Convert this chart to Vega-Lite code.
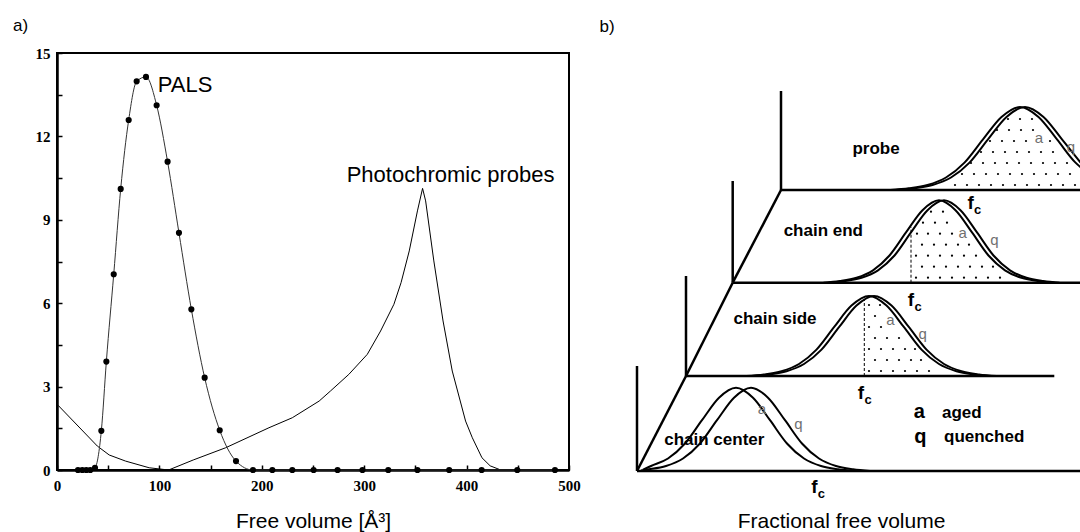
{
  "$schema": "https://vega.github.io/schema/vega-lite/v6.json",
  "padding": {"left": 11, "top": 16, "right": 0, "bottom": 0},
  "spacing": 32,
  "bounds": "flush",
  "resolve": {"scale": {"x": "independent", "y": "independent"}},
  "config": {
    "font": "Liberation Sans",
    "view": {"stroke": null},
    "axis": {"grid": false, "domainColor": "black", "tickColor": "black", "labelColor": "black", "titleColor": "black"}
  },
  "datasets": {
    "pals": [
      {"vol": 20.5, "val": 0}, {"vol": 24.7, "val": 0}, {"vol": 28.6, "val": 0}, {"vol": 32.5, "val": 0},
      {"vol": 37.1, "val": 0.08}, {"vol": 43.3, "val": 1.41}, {"vol": 48.2, "val": 3.9}, {"vol": 55.4, "val": 7.04},
      {"vol": 62.2, "val": 10.11}, {"vol": 70.0, "val": 12.59}, {"vol": 77.8, "val": 13.98}, {"vol": 86.9, "val": 14.14},
      {"vol": 97.3, "val": 13.12}, {"vol": 108.0, "val": 11.09}, {"vol": 119.1, "val": 8.53}, {"vol": 131.2, "val": 5.78},
      {"vol": 144.2, "val": 3.32}, {"vol": 158.9, "val": 1.43}, {"vol": 174.8, "val": 0.32}, {"vol": 191.4, "val": 0},
      {"vol": 210.3, "val": 0}, {"vol": 229.8, "val": 0}, {"vol": 250.6, "val": 0}, {"vol": 274.0, "val": 0},
      {"vol": 298.3, "val": 0}, {"vol": 323.5, "val": 0}, {"vol": 352.0, "val": 0}, {"vol": 383.0, "val": 0},
      {"vol": 414.7, "val": 0}, {"vol": 449.5, "val": 0}, {"vol": 486.3, "val": 0}
    ],
    "probes": [
      {"vol": 1, "val": 2.33}, {"vol": 39.4, "val": 0.86}, {"vol": 51, "val": 0.54}, {"vol": 67, "val": 0.32},
      {"vol": 90, "val": 0.08}, {"vol": 109, "val": 0}, {"vol": 133, "val": 0.36}, {"vol": 164.7, "val": 0.8},
      {"vol": 207, "val": 1.52}, {"vol": 229.8, "val": 1.88}, {"vol": 256, "val": 2.48}, {"vol": 267, "val": 2.84},
      {"vol": 285, "val": 3.44}, {"vol": 303, "val": 4.16}, {"vol": 316, "val": 5.0}, {"vol": 329, "val": 5.96},
      {"vol": 336, "val": 6.74}, {"vol": 344, "val": 7.88}, {"vol": 352, "val": 9.32}, {"vol": 357, "val": 10.13},
      {"vol": 360, "val": 9.68}, {"vol": 368, "val": 7.52}, {"vol": 377, "val": 5.36}, {"vol": 386, "val": 3.56},
      {"vol": 399, "val": 1.76}, {"vol": 405.6, "val": 1.16}, {"vol": 415, "val": 0.44}, {"vol": 423, "val": 0.15},
      {"vol": 432, "val": 0.02}
    ],
    "notes": [
      {"vol": 125.0, "val": 13.85, "label": "PALS"},
      {"vol": 384.4, "val": 10.6, "label": "Photochromic probes"}
    ],
    "panelA": [{"vol": -35.6, "val": 15.97, "label": "a)"}],
    "panelB": [{"sx": 0.6, "sy": 44.4, "label": "b)"}],
    "frames": [
      {"sx": 18.0, "sy": 38.0, "sx2": 18.0, "sy2": 28.1},
      {"sx": 18.0, "sy": 28.1, "sx2": 48.0, "sy2": 28.1},
      {"sx": 18.0, "sy": 28.1, "sx2": 13.17, "sy2": 18.83},
      {"sx": 13.17, "sy": 29.0, "sx2": 13.17, "sy2": 18.83},
      {"sx": 13.17, "sy": 18.83, "sx2": 48.0, "sy2": 18.83},
      {"sx": 13.17, "sy": 18.83, "sx2": 8.5, "sy2": 9.5},
      {"sx": 8.5, "sy": 19.5, "sx2": 8.5, "sy2": 9.5},
      {"sx": 8.5, "sy": 9.5, "sx2": 45.33, "sy2": 9.5},
      {"sx": 8.5, "sy": 9.5, "sx2": 3.6, "sy2": 0},
      {"sx": 3.6, "sy": 10.5, "sx2": 3.6, "sy2": 0},
      {"sx": 3.6, "sy": 0, "sx2": 48.0, "sy2": 0}
    ],
    "cutoffs": [
      {"sx": 31.0, "sy": 18.83, "sx2": 31.0, "sy2": 24.4},
      {"sx": 26.33, "sy": 9.5, "sx2": 26.33, "sy2": 17.2}
    ],
    "curves": [
      {"curve": "probe a", "sx": 28.95, "sy": 28.1}, {"curve": "probe a", "sx": 30.8, "sy": 28.27}, {"curve": "probe a", "sx": 32.65, "sy": 28.6},
      {"curve": "probe a", "sx": 34.5, "sy": 29.35}, {"curve": "probe a", "sx": 36.35, "sy": 30.84}, {"curve": "probe a", "sx": 38.2, "sy": 33.16},
      {"curve": "probe a", "sx": 40.05, "sy": 35.4}, {"curve": "probe a", "sx": 41.9, "sy": 36.4}, {"curve": "probe a", "sx": 43.75, "sy": 35.4},
      {"curve": "probe a", "sx": 45.6, "sy": 33.16}, {"curve": "probe a", "sx": 47.45, "sy": 30.84}, {"curve": "probe a", "sx": 48.0, "sy": 30.34},
      {"curve": "probe q", "sx": 29.45, "sy": 28.1}, {"curve": "probe q", "sx": 31.3, "sy": 28.27}, {"curve": "probe q", "sx": 33.15, "sy": 28.6},
      {"curve": "probe q", "sx": 35.0, "sy": 29.35}, {"curve": "probe q", "sx": 36.85, "sy": 30.84}, {"curve": "probe q", "sx": 38.7, "sy": 33.16},
      {"curve": "probe q", "sx": 40.55, "sy": 35.4}, {"curve": "probe q", "sx": 42.4, "sy": 36.4}, {"curve": "probe q", "sx": 44.25, "sy": 35.4},
      {"curve": "probe q", "sx": 46.1, "sy": 33.16}, {"curve": "probe q", "sx": 47.95, "sy": 30.84},
      {"curve": "end a", "sx": 22.25, "sy": 18.83}, {"curve": "end a", "sx": 23.9, "sy": 18.99}, {"curve": "end a", "sx": 25.55, "sy": 19.32},
      {"curve": "end a", "sx": 27.2, "sy": 20.07}, {"curve": "end a", "sx": 28.85, "sy": 21.55}, {"curve": "end a", "sx": 30.5, "sy": 23.86},
      {"curve": "end a", "sx": 32.15, "sy": 26.08}, {"curve": "end a", "sx": 33.8, "sy": 27.07}, {"curve": "end a", "sx": 35.45, "sy": 26.08},
      {"curve": "end a", "sx": 37.1, "sy": 23.86}, {"curve": "end a", "sx": 38.75, "sy": 21.55}, {"curve": "end a", "sx": 40.4, "sy": 20.07},
      {"curve": "end a", "sx": 42.05, "sy": 19.32}, {"curve": "end a", "sx": 43.7, "sy": 18.99}, {"curve": "end a", "sx": 45.35, "sy": 18.83},
      {"curve": "end q", "sx": 22.75, "sy": 18.83}, {"curve": "end q", "sx": 24.4, "sy": 18.99}, {"curve": "end q", "sx": 26.05, "sy": 19.32},
      {"curve": "end q", "sx": 27.7, "sy": 20.07}, {"curve": "end q", "sx": 29.35, "sy": 21.55}, {"curve": "end q", "sx": 31.0, "sy": 23.86},
      {"curve": "end q", "sx": 32.65, "sy": 26.08}, {"curve": "end q", "sx": 34.3, "sy": 27.07}, {"curve": "end q", "sx": 35.95, "sy": 26.08},
      {"curve": "end q", "sx": 37.6, "sy": 23.86}, {"curve": "end q", "sx": 39.25, "sy": 21.55}, {"curve": "end q", "sx": 40.9, "sy": 20.07},
      {"curve": "end q", "sx": 42.55, "sy": 19.32}, {"curve": "end q", "sx": 44.2, "sy": 18.99}, {"curve": "end q", "sx": 45.85, "sy": 18.83},
      {"curve": "side a", "sx": 14.55, "sy": 9.5}, {"curve": "side a", "sx": 16.3, "sy": 9.66}, {"curve": "side a", "sx": 18.05, "sy": 9.98},
      {"curve": "side a", "sx": 19.8, "sy": 10.7}, {"curve": "side a", "sx": 21.55, "sy": 12.14}, {"curve": "side a", "sx": 23.3, "sy": 14.38},
      {"curve": "side a", "sx": 25.05, "sy": 16.54}, {"curve": "side a", "sx": 26.8, "sy": 17.5}, {"curve": "side a", "sx": 28.55, "sy": 16.54},
      {"curve": "side a", "sx": 30.3, "sy": 14.38}, {"curve": "side a", "sx": 32.05, "sy": 12.14}, {"curve": "side a", "sx": 33.8, "sy": 10.7},
      {"curve": "side a", "sx": 35.55, "sy": 9.98}, {"curve": "side a", "sx": 37.3, "sy": 9.66}, {"curve": "side a", "sx": 39.05, "sy": 9.5},
      {"curve": "side q", "sx": 15.05, "sy": 9.5}, {"curve": "side q", "sx": 16.8, "sy": 9.66}, {"curve": "side q", "sx": 18.55, "sy": 9.98},
      {"curve": "side q", "sx": 20.3, "sy": 10.7}, {"curve": "side q", "sx": 22.05, "sy": 12.14}, {"curve": "side q", "sx": 23.8, "sy": 14.38},
      {"curve": "side q", "sx": 25.55, "sy": 16.54}, {"curve": "side q", "sx": 27.3, "sy": 17.5}, {"curve": "side q", "sx": 29.05, "sy": 16.54},
      {"curve": "side q", "sx": 30.8, "sy": 14.38}, {"curve": "side q", "sx": 32.55, "sy": 12.14}, {"curve": "side q", "sx": 34.3, "sy": 10.7},
      {"curve": "side q", "sx": 36.05, "sy": 9.98}, {"curve": "side q", "sx": 37.8, "sy": 9.66}, {"curve": "side q", "sx": 39.55, "sy": 9.5},
      {"curve": "center a", "sx": 4.2, "sy": 0.12}, {"curve": "center a", "sx": 5.0, "sy": 0.5}, {"curve": "center a", "sx": 6.7, "sy": 1.25},
      {"curve": "center a", "sx": 8.4, "sy": 2.75}, {"curve": "center a", "sx": 10.1, "sy": 5.08}, {"curve": "center a", "sx": 11.8, "sy": 7.33},
      {"curve": "center a", "sx": 13.5, "sy": 8.33}, {"curve": "center a", "sx": 15.2, "sy": 7.33}, {"curve": "center a", "sx": 16.9, "sy": 5.08},
      {"curve": "center a", "sx": 18.6, "sy": 2.75}, {"curve": "center a", "sx": 20.3, "sy": 1.25}, {"curve": "center a", "sx": 22.0, "sy": 0.5},
      {"curve": "center a", "sx": 23.7, "sy": 0.17}, {"curve": "center a", "sx": 25.4, "sy": 0},
      {"curve": "center q", "sx": 4.0, "sy": 0.06}, {"curve": "center q", "sx": 4.8, "sy": 0.17}, {"curve": "center q", "sx": 6.5, "sy": 0.5},
      {"curve": "center q", "sx": 8.2, "sy": 1.25}, {"curve": "center q", "sx": 9.9, "sy": 2.75}, {"curve": "center q", "sx": 11.6, "sy": 5.08},
      {"curve": "center q", "sx": 13.3, "sy": 7.33}, {"curve": "center q", "sx": 15.0, "sy": 8.33}, {"curve": "center q", "sx": 16.7, "sy": 7.33},
      {"curve": "center q", "sx": 18.4, "sy": 5.08}, {"curve": "center q", "sx": 20.1, "sy": 2.75}, {"curve": "center q", "sx": 21.8, "sy": 1.25},
      {"curve": "center q", "sx": 23.5, "sy": 0.5}, {"curve": "center q", "sx": 25.2, "sy": 0.17}, {"curve": "center q", "sx": 26.9, "sy": 0}
    ],
    "stipple": [
      {"sx": 35.4, "sy": 28.6}, {"sx": 36.6, "sy": 28.6}, {"sx": 37.8, "sy": 28.6}, {"sx": 39.0, "sy": 28.6}, {"sx": 40.2, "sy": 28.6}, {"sx": 41.4, "sy": 28.6},
      {"sx": 42.6, "sy": 28.6}, {"sx": 43.8, "sy": 28.6}, {"sx": 45.0, "sy": 28.6}, {"sx": 46.2, "sy": 28.6}, {"sx": 47.4, "sy": 28.6},
      {"sx": 36.1, "sy": 29.7}, {"sx": 37.3, "sy": 29.7}, {"sx": 38.5, "sy": 29.7}, {"sx": 39.7, "sy": 29.7}, {"sx": 40.9, "sy": 29.7},
      {"sx": 42.1, "sy": 29.7}, {"sx": 43.3, "sy": 29.7}, {"sx": 44.5, "sy": 29.7}, {"sx": 45.7, "sy": 29.7}, {"sx": 46.9, "sy": 29.7},
      {"sx": 37.0, "sy": 30.8}, {"sx": 38.2, "sy": 30.8}, {"sx": 39.4, "sy": 30.8}, {"sx": 40.6, "sy": 30.8}, {"sx": 41.8, "sy": 30.8},
      {"sx": 43.0, "sy": 30.8}, {"sx": 44.2, "sy": 30.8}, {"sx": 45.4, "sy": 30.8}, {"sx": 46.6, "sy": 30.8},
      {"sx": 38.0, "sy": 31.9}, {"sx": 39.2, "sy": 31.9}, {"sx": 40.4, "sy": 31.9}, {"sx": 41.6, "sy": 31.9}, {"sx": 42.8, "sy": 31.9},
      {"sx": 44.0, "sy": 31.9}, {"sx": 45.2, "sy": 31.9},
      {"sx": 38.9, "sy": 33.0}, {"sx": 40.1, "sy": 33.0}, {"sx": 41.3, "sy": 33.0}, {"sx": 42.5, "sy": 33.0}, {"sx": 44.9, "sy": 33.0},
      {"sx": 39.6, "sy": 34.1}, {"sx": 40.8, "sy": 34.1}, {"sx": 42.0, "sy": 34.1}, {"sx": 43.2, "sy": 34.1},
      {"sx": 40.7, "sy": 35.2}, {"sx": 41.9, "sy": 35.2}, {"sx": 43.1, "sy": 35.2},
      {"sx": 31.5, "sy": 19.33}, {"sx": 32.7, "sy": 19.33}, {"sx": 33.9, "sy": 19.33}, {"sx": 35.1, "sy": 19.33}, {"sx": 36.3, "sy": 19.33},
      {"sx": 37.5, "sy": 19.33}, {"sx": 38.7, "sy": 19.33}, {"sx": 39.9, "sy": 19.33},
      {"sx": 32.1, "sy": 20.43}, {"sx": 33.3, "sy": 20.43}, {"sx": 34.5, "sy": 20.43}, {"sx": 35.7, "sy": 20.43}, {"sx": 36.9, "sy": 20.43},
      {"sx": 38.1, "sy": 20.43}, {"sx": 39.2, "sy": 20.43},
      {"sx": 31.5, "sy": 21.53}, {"sx": 32.7, "sy": 21.53}, {"sx": 33.9, "sy": 21.53}, {"sx": 35.1, "sy": 21.53}, {"sx": 36.3, "sy": 21.53},
      {"sx": 37.5, "sy": 21.53},
      {"sx": 32.1, "sy": 22.63}, {"sx": 33.3, "sy": 22.63}, {"sx": 34.5, "sy": 22.63}, {"sx": 35.7, "sy": 22.63}, {"sx": 36.8, "sy": 22.63},
      {"sx": 31.6, "sy": 23.73}, {"sx": 32.7, "sy": 23.73}, {"sx": 33.9, "sy": 23.73}, {"sx": 35.1, "sy": 23.73},
      {"sx": 32.2, "sy": 24.83}, {"sx": 33.4, "sy": 24.83}, {"sx": 34.6, "sy": 24.83},
      {"sx": 33.0, "sy": 25.93}, {"sx": 34.2, "sy": 25.93},
      {"sx": 26.8, "sy": 10.0}, {"sx": 28.0, "sy": 10.0}, {"sx": 29.2, "sy": 10.0}, {"sx": 30.4, "sy": 10.0}, {"sx": 31.6, "sy": 10.0}, {"sx": 32.8, "sy": 10.0},
      {"sx": 27.4, "sy": 11.1}, {"sx": 28.6, "sy": 11.1}, {"sx": 29.8, "sy": 11.1}, {"sx": 31.0, "sy": 11.1}, {"sx": 32.0, "sy": 11.1},
      {"sx": 26.8, "sy": 12.2}, {"sx": 28.0, "sy": 12.2}, {"sx": 29.2, "sy": 12.2}, {"sx": 30.4, "sy": 12.2}, {"sx": 31.4, "sy": 12.2},
      {"sx": 27.4, "sy": 13.3}, {"sx": 28.6, "sy": 13.3}, {"sx": 29.8, "sy": 13.3},
      {"sx": 26.8, "sy": 14.4}, {"sx": 28.0, "sy": 14.4},
      {"sx": 27.4, "sy": 15.5},
      {"sx": 26.8, "sy": 16.6}, {"sx": 27.9, "sy": 16.6}
    ],
    "panelNames": [
      {"sx": 27.5, "sy": 31.67, "label": "probe"},
      {"sx": 22.23, "sy": 23.5, "label": "chain end"},
      {"sx": 17.4, "sy": 14.67, "label": "chain side"},
      {"sx": 11.33, "sy": 2.6, "label": "chain center"}
    ],
    "curveTags": [
      {"sx": 43.8, "sy": 33.3, "label": "a"}, {"sx": 47.0, "sy": 32.4, "label": "q"},
      {"sx": 36.17, "sy": 23.83, "label": "a"}, {"sx": 39.33, "sy": 23.07, "label": "q"},
      {"sx": 28.93, "sy": 15.07, "label": "a"}, {"sx": 32.17, "sy": 13.67, "label": "q"},
      {"sx": 16.1, "sy": 6.17, "label": "a"}, {"sx": 19.73, "sy": 4.67, "label": "q"}
    ],
    "keyLetters": [
      {"sx": 31.83, "sy": 5.27, "label": "a"},
      {"sx": 31.93, "sy": 2.83, "label": "q"}
    ],
    "keyWords": [
      {"sx": 34.1, "sy": 5.3, "label": "aged"},
      {"sx": 34.3, "sy": 2.9, "label": "quenched"}
    ],
    "fcMarks": [
      {"sx": 36.97, "sy": 26.17},
      {"sx": 31.0, "sy": 16.5},
      {"sx": 26.0, "sy": 7.17},
      {"sx": 21.33, "sy": -2.17}
    ]
  },
  "hconcat": [
    {
      "width": 512,
      "height": 417,
      "view": {"stroke": "black", "strokeWidth": 2},
      "encoding": {
        "x": {
          "field": "vol", "type": "quantitative",
          "scale": {"domain": [0, 500], "nice": false, "zero": false},
          "axis": {
            "values": [0, 50, 100, 150, 200, 250, 300, 350, 400, 450, 500],
            "labelExpr": "datum.value % 100 === 0 ? datum.label : ''",
            "labelFlush": false, "labelOverlap": false,
            "tickSize": -5, "tickWidth": 1.5, "domainWidth": 2.5,
            "labelFont": "Liberation Serif", "labelFontWeight": "bold", "labelFontSize": 15, "labelPadding": 13,
            "title": "Free volume [Å³]", "titleFont": "Liberation Sans", "titleFontSize": 21, "titleFontWeight": "normal", "titlePadding": 17
          }
        },
        "y": {
          "field": "val", "type": "quantitative",
          "scale": {"domain": [0, 15], "nice": false, "zero": false},
          "axis": {
            "values": [0, 1.5, 3, 4.5, 6, 7.5, 9, 10.5, 12, 13.5, 15],
            "labelExpr": "datum.value % 3 === 0 ? datum.label : ''",
            "labelOverlap": false,
            "tickSize": -5, "tickWidth": 1.5, "domainWidth": 2.5,
            "labelFont": "Liberation Serif", "labelFontWeight": "bold", "labelFontSize": 15, "labelPadding": 12,
            "title": null
          }
        }
      },
      "layer": [
        {"data": {"name": "probes"}, "mark": {"type": "line", "color": "black", "strokeWidth": 1}},
        {"data": {"name": "pals"}, "mark": {"type": "line", "color": "#333333", "strokeWidth": 1, "interpolate": "monotone"}},
        {"data": {"name": "pals"}, "mark": {"type": "point", "filled": true, "color": "black", "opacity": 1, "size": 38}},
        {
          "data": {"name": "notes"},
          "mark": {"type": "text", "fontSize": 22, "align": "center", "baseline": "middle", "color": "black"},
          "encoding": {"text": {"field": "label"}}
        },
        {
          "data": {"name": "panelA"},
          "mark": {"type": "text", "fontSize": 17, "align": "center", "baseline": "middle", "color": "black"},
          "encoding": {"text": {"field": "label"}}
        }
      ]
    },
    {
      "width": 480,
      "height": 418,
      "view": {"stroke": null},
      "encoding": {
        "x": {
          "field": "sx", "type": "quantitative",
          "scale": {"domain": [0, 48], "nice": false, "zero": false},
          "axis": {"domain": false, "ticks": false, "labels": false, "grid": false,
                   "title": "Fractional free volume", "titleFontSize": 21, "titleFontWeight": "normal", "titlePadding": 39}
        },
        "y": {
          "field": "sy", "type": "quantitative",
          "scale": {"domain": [0, 41.8], "nice": false, "zero": false},
          "axis": null
        }
      },
      "layer": [
        {"data": {"name": "stipple"}, "mark": {"type": "point", "filled": true, "color": "black", "opacity": 1, "size": 5}},
        {
          "data": {"name": "curves"},
          "mark": {"type": "line", "color": "black", "strokeWidth": 2, "interpolate": "monotone"},
          "encoding": {"detail": {"field": "curve"}}
        },
        {
          "data": {"name": "frames"},
          "mark": {"type": "rule", "color": "black", "strokeWidth": 2.5},
          "encoding": {"x2": {"field": "sx2"}, "y2": {"field": "sy2"}}
        },
        {
          "data": {"name": "cutoffs"},
          "mark": {"type": "rule", "color": "black", "strokeWidth": 1, "strokeDash": [3, 2]},
          "encoding": {"x2": {"field": "sx2"}, "y2": {"field": "sy2"}}
        },
        {
          "data": {"name": "panelNames"},
          "mark": {"type": "text", "fontSize": 17, "fontWeight": "bold", "align": "center", "baseline": "alphabetic", "color": "black"},
          "encoding": {"text": {"field": "label"}}
        },
        {
          "data": {"name": "curveTags"},
          "mark": {"type": "text", "fontSize": 15, "align": "center", "baseline": "middle", "color": "#707070"},
          "encoding": {"text": {"field": "label"}}
        },
        {
          "data": {"name": "keyLetters"},
          "mark": {"type": "text", "fontSize": 20, "fontWeight": "bold", "align": "center", "baseline": "alphabetic", "color": "black"},
          "encoding": {"text": {"field": "label"}}
        },
        {
          "data": {"name": "keyWords"},
          "mark": {"type": "text", "fontSize": 17, "fontWeight": "bold", "align": "left", "baseline": "alphabetic", "color": "black"},
          "encoding": {"text": {"field": "label"}}
        },
        {
          "data": {"name": "fcMarks"},
          "mark": {"type": "text", "text": "f", "fontSize": 19, "fontWeight": "bold", "align": "center", "baseline": "alphabetic", "color": "black"}
        },
        {
          "data": {"name": "fcMarks"},
          "mark": {"type": "text", "text": "c", "fontSize": 13, "fontWeight": "bold", "align": "center", "baseline": "alphabetic", "dx": 7, "dy": 5, "color": "black"}
        },
        {
          "data": {"name": "panelB"},
          "mark": {"type": "text", "fontSize": 17, "align": "center", "baseline": "middle", "color": "black"},
          "encoding": {"text": {"field": "label"}}
        }
      ]
    }
  ]
}
